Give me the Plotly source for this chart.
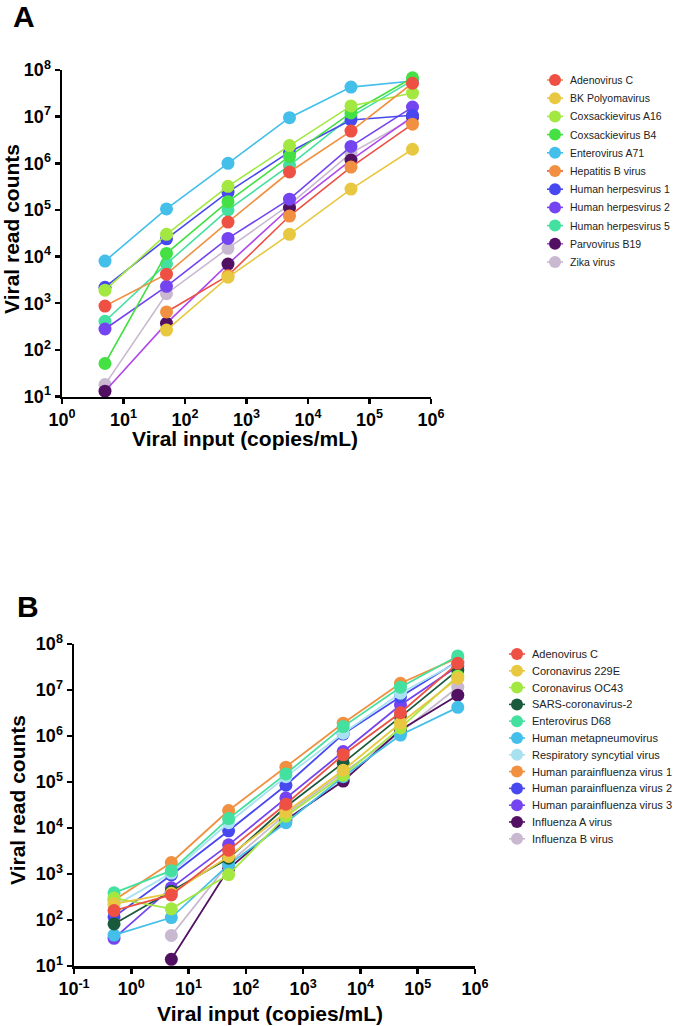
import plotly.graph_objects as go

W, H = 676, 1026

# ---------------- Panel A data ----------------
input_a = [5, 50, 500, 5000, 50000, 500000]
names_a = ["Adenovirus C", "BK Polyomavirus", "Coxsackievirus A16", "Coxsackievirus B4",
           "Enterovirus A71", "Hepatitis B virus", "Human herpesvirus 1", "Human herpesvirus 2",
           "Human herpesvirus 5", "Parvovirus B19", "Zika virus"]
adenovirus_c_a = [870, 4200, 55000, 650000, 4.9e6, 5.2e7]
bk_polyomavirus = [None, 265, 3600, 30000, 2.8e5, 2.0e6]
coxsackievirus_a16 = [1900, 30000, 3.2e5, 2.4e6, 1.7e7, 3.2e7]
coxsackievirus_b4 = [51, 11700, 1.5e5, 1.4e6, 1.2e7, 6.8e7]
enterovirus_a71 = [8000, 1.05e5, 1.0e6, 9.5e6, 4.3e7, 5.8e7]
hepatitis_b = [None, 650, 3900, 74000, 8.3e5, 6.9e6]
hhv1 = [2200, 24000, 2.4e5, 1.75e6, 8.5e6, 1.07e7]
hhv2 = [280, 2300, 24500, 1.7e5, 2.3e6, 1.6e7]
hhv5 = [410, 7000, 1.0e5, 9.0e5, 1.0e7, 6.0e7]
parvovirus_b19 = [13, 370, 6900, 1.1e5, 1.17e6, 1.0e7]
zika = [18, 1600, 15000, 1.3e5, 1.65e6, 9.0e6]
series_a = [adenovirus_c_a, bk_polyomavirus, coxsackievirus_a16, coxsackievirus_b4,
            enterovirus_a71, hepatitis_b, hhv1, hhv2, hhv5, parvovirus_b19, zika]

# ---------------- Panel B data ----------------
input_b = [0.5, 5, 50, 500, 5000, 50000, 500000]
names_b = ["Adenovirus C", "Coronavirus 229E", "Coronavirus OC43", "SARS-coronavirus-2",
           "Enterovirus D68", "Human metapneumovirus", "Respiratory syncytial virus",
           "Human parainfluenza virus 1", "Human parainfluenza virus 2",
           "Human parainfluenza virus 3", "Influenza A virus", "Influenza B virus"]
adenovirus_c_b = [160, 350, 3300, 33000, 3.9e5, 3.2e6, 3.8e7]
coronavirus_229e = [225, 380, 2400, 22000, 1.8e5, 1.9e6, 1.8e7]
coronavirus_oc43 = [300, 175, 970, 18000, 1.4e5, 1.5e6, 2.0e7]
sars_cov_2 = [82, 420, 2200, 29000, 2.6e5, 2.6e6, 2.7e7]
enterovirus_d68 = [390, 1180, 16000, 1.5e5, 1.6e6, 1.15e7, 5.5e7]
metapneumovirus = [47, 113, 1600, 13000, 1.3e5, 1.05e6, 4.2e6]
rsv = [200, 1050, 13000, 1.3e5, 1.15e6, 8.5e6, 4.0e7]
hpiv1 = [270, 1780, 24000, 2.1e5, 1.9e6, 1.4e7, 5.0e7]
hpiv2 = [117, 950, 8700, 85000, 1.1e6, 7.1e6, 4.2e7]
hpiv3 = [40, 500, 4300, 45000, 4.6e5, 4.7e6, 3.3e7]
influenza_a = [None, 14, 1300, 15000, 1.05e5, 1.35e6, 7.7e6]
influenza_b = [None, 46, 1700, 20000, 1.6e5, 1.2e6, 1.15e7]
series_b = [adenovirus_c_b, coronavirus_229e, coronavirus_oc43, sars_cov_2, enterovirus_d68,
            metapneumovirus, rsv, hpiv1, hpiv2, hpiv3, influenza_a, influenza_b]

# ---------------- Tick labels ----------------
xticks_a = [1, 10, 100, 1e3, 1e4, 1e5, 1e6]
xticktext_a = ["10<sup>0</sup>", "10<sup>1</sup>", "10<sup>2</sup>", "10<sup>3</sup>",
               "10<sup>4</sup>", "10<sup>5</sup>", "10<sup>6</sup>"]
xticks_b = [0.1, 1, 10, 100, 1e3, 1e4, 1e5, 1e6]
xticktext_b = ["10<sup>-1</sup>"] + xticktext_a
yticks = [10, 100, 1e3, 1e4, 1e5, 1e6, 1e7, 1e8]
yticktext = ["10<sup>1</sup>", "10<sup>2</sup>", "10<sup>3</sup>", "10<sup>4</sup>",
             "10<sup>5</sup>", "10<sup>6</sup>", "10<sup>7</sup>", "10<sup>8</sup>"]

# ---------------- Styles ----------------
RED, YEL, LIME, GRN, SKY = "#EE5044", "#E8C840", "#A2E840", "#44E044", "#44BFEA"
ORG, BLU, VIO, MINT = "#F09040", "#4848F0", "#7444F0", "#44E0A0"
DPUR, LAV, DGRN, LBLU = "#521062", "#C8B8D0", "#1A5A3C", "#A8E2F0"
marker_colors_a = [RED, YEL, LIME, GRN, SKY, ORG, BLU, VIO, MINT, DPUR, LAV]
line_colors_a = [ORG, YEL, LIME, GRN, SKY, RED, BLU, VIO, MINT, "#B048EC", LAV]
marker_colors_b = [RED, YEL, LIME, DGRN, MINT, SKY, LBLU, ORG, BLU, VIO, DPUR, LAV]
line_colors_b = marker_colors_b

FONT = "Liberation Sans, Arial, sans-serif"


def px(x):
    return x / W


def py(y):
    return 1 - y / H


fig = go.Figure()

# Data traces (first series drawn on top, as in the reference)
for i in reversed(range(len(names_a))):
    fig.add_trace(go.Scatter(
        x=input_a, y=series_a[i], name=names_a[i], mode="lines+markers",
        connectgaps=False, cliponaxis=False,
        line=dict(color=line_colors_a[i], width=1.6),
        marker=dict(color=marker_colors_a[i], size=13, line=dict(width=0)),
        xaxis="x", yaxis="y", showlegend=False))

for i in reversed(range(len(names_b))):
    fig.add_trace(go.Scatter(
        x=input_b, y=series_b[i], name=names_b[i], mode="lines+markers",
        connectgaps=False, cliponaxis=False,
        line=dict(color=line_colors_b[i], width=1.8),
        marker=dict(color=marker_colors_b[i], size=13, line=dict(width=0)),
        xaxis="x2", yaxis="y2", showlegend=False))

legend_ann = []


# Custom legends drawn on a full-page pixel overlay axis (x3/y3)
def add_legend(names, mcolors, lcolors, cx, tx, y0, dy, fsize):
    for i, nm in enumerate(names):
        yy = y0 + dy * i
        fig.add_trace(go.Scatter(
            x=[cx - 8, cx + 8], y=[yy, yy], mode="lines",
            line=dict(color=lcolors[i], width=1.6),
            xaxis="x3", yaxis="y3", showlegend=False, hoverinfo="skip"))
        fig.add_trace(go.Scatter(
            x=[cx], y=[yy], mode="markers",
            marker=dict(color=mcolors[i], size=12, line=dict(width=0)),
            xaxis="x3", yaxis="y3", showlegend=False, hoverinfo="skip"))
        legend_ann.append(dict(
            text=nm, x=tx / W, y=1 - yy / H, xanchor="left", yanchor="middle",
            borderpad=0, font=dict(family=FONT, size=fsize, color="#222222")))


add_legend(names_a, marker_colors_a, line_colors_a, 555, 569, 80, 18.2, 10.5)
add_legend(names_b, marker_colors_b, line_colors_b, 517, 531, 654, 16.8, 11)

axis_common = dict(
    type="log", showgrid=False, zeroline=False, showline=True, linecolor="black",
    linewidth=2.5, ticks="outside", ticklen=5, tickwidth=2.5, tickcolor="black",
    tickfont=dict(family=FONT, size=18, color="black", weight="bold"),
    mirror=False, fixedrange=True)

fig.update_layout(
    width=W, height=H, margin=dict(l=0, r=0, t=0, b=0, pad=0, autoexpand=False),
    paper_bgcolor="white", plot_bgcolor="rgba(0,0,0,0)", showlegend=False,
    xaxis=dict(axis_common, domain=[px(62), px(431)], range=[0, 6],
               tickvals=xticks_a, ticktext=xticktext_a, anchor="y"),
    yaxis=dict(axis_common, domain=[py(396.5), py(70)], range=[1, 8],
               tickvals=yticks, ticktext=yticktext, anchor="x"),
    xaxis2=dict(axis_common, domain=[px(74), px(475)], range=[-1, 6],
                tickvals=xticks_b, ticktext=xticktext_b, anchor="y2"),
    yaxis2=dict(axis_common, domain=[py(966), py(644)], range=[1, 8],
                tickvals=yticks, ticktext=yticktext, anchor="x2"),
    xaxis3=dict(domain=[0, 1], range=[0, W], visible=False, fixedrange=True, anchor="y3"),
    yaxis3=dict(domain=[0, 1], range=[H, 0], visible=False, fixedrange=True, anchor="x3"),
)

title_font = dict(family=FONT, size=21, color="black", weight="bold")
ann = [
    dict(text="A", x=px(11), y=py(16), xanchor="left", yanchor="middle",
         font=dict(family=FONT, size=30, color="black", weight=900)),
    dict(text="B", x=px(15), y=py(606), xanchor="left", yanchor="middle",
         font=dict(family=FONT, size=30, color="black", weight=900)),
    dict(text="Viral input (copies/mL)", x=px(245), y=py(439), xanchor="center",
         yanchor="middle", font=title_font),
    dict(text="Viral read counts", x=px(11), y=py(229), xanchor="center",
         yanchor="middle", textangle=-90, font=title_font),
    dict(text="Viral input (copies/mL)", x=px(270), y=py(1013), xanchor="center",
         yanchor="middle", font=title_font),
    dict(text="Viral read counts", x=px(17), y=py(800), xanchor="center",
         yanchor="middle", textangle=-90, font=title_font),
] + legend_ann
for a in ann:
    a.update(xref="paper", yref="paper", showarrow=False)
fig.update_layout(annotations=ann)

fig.write_html(
    "out.html",
    config={"displayModeBar": False, "staticPlot": True},
    post_script="document.body.style.margin='0';document.body.style.overflow='hidden';")
